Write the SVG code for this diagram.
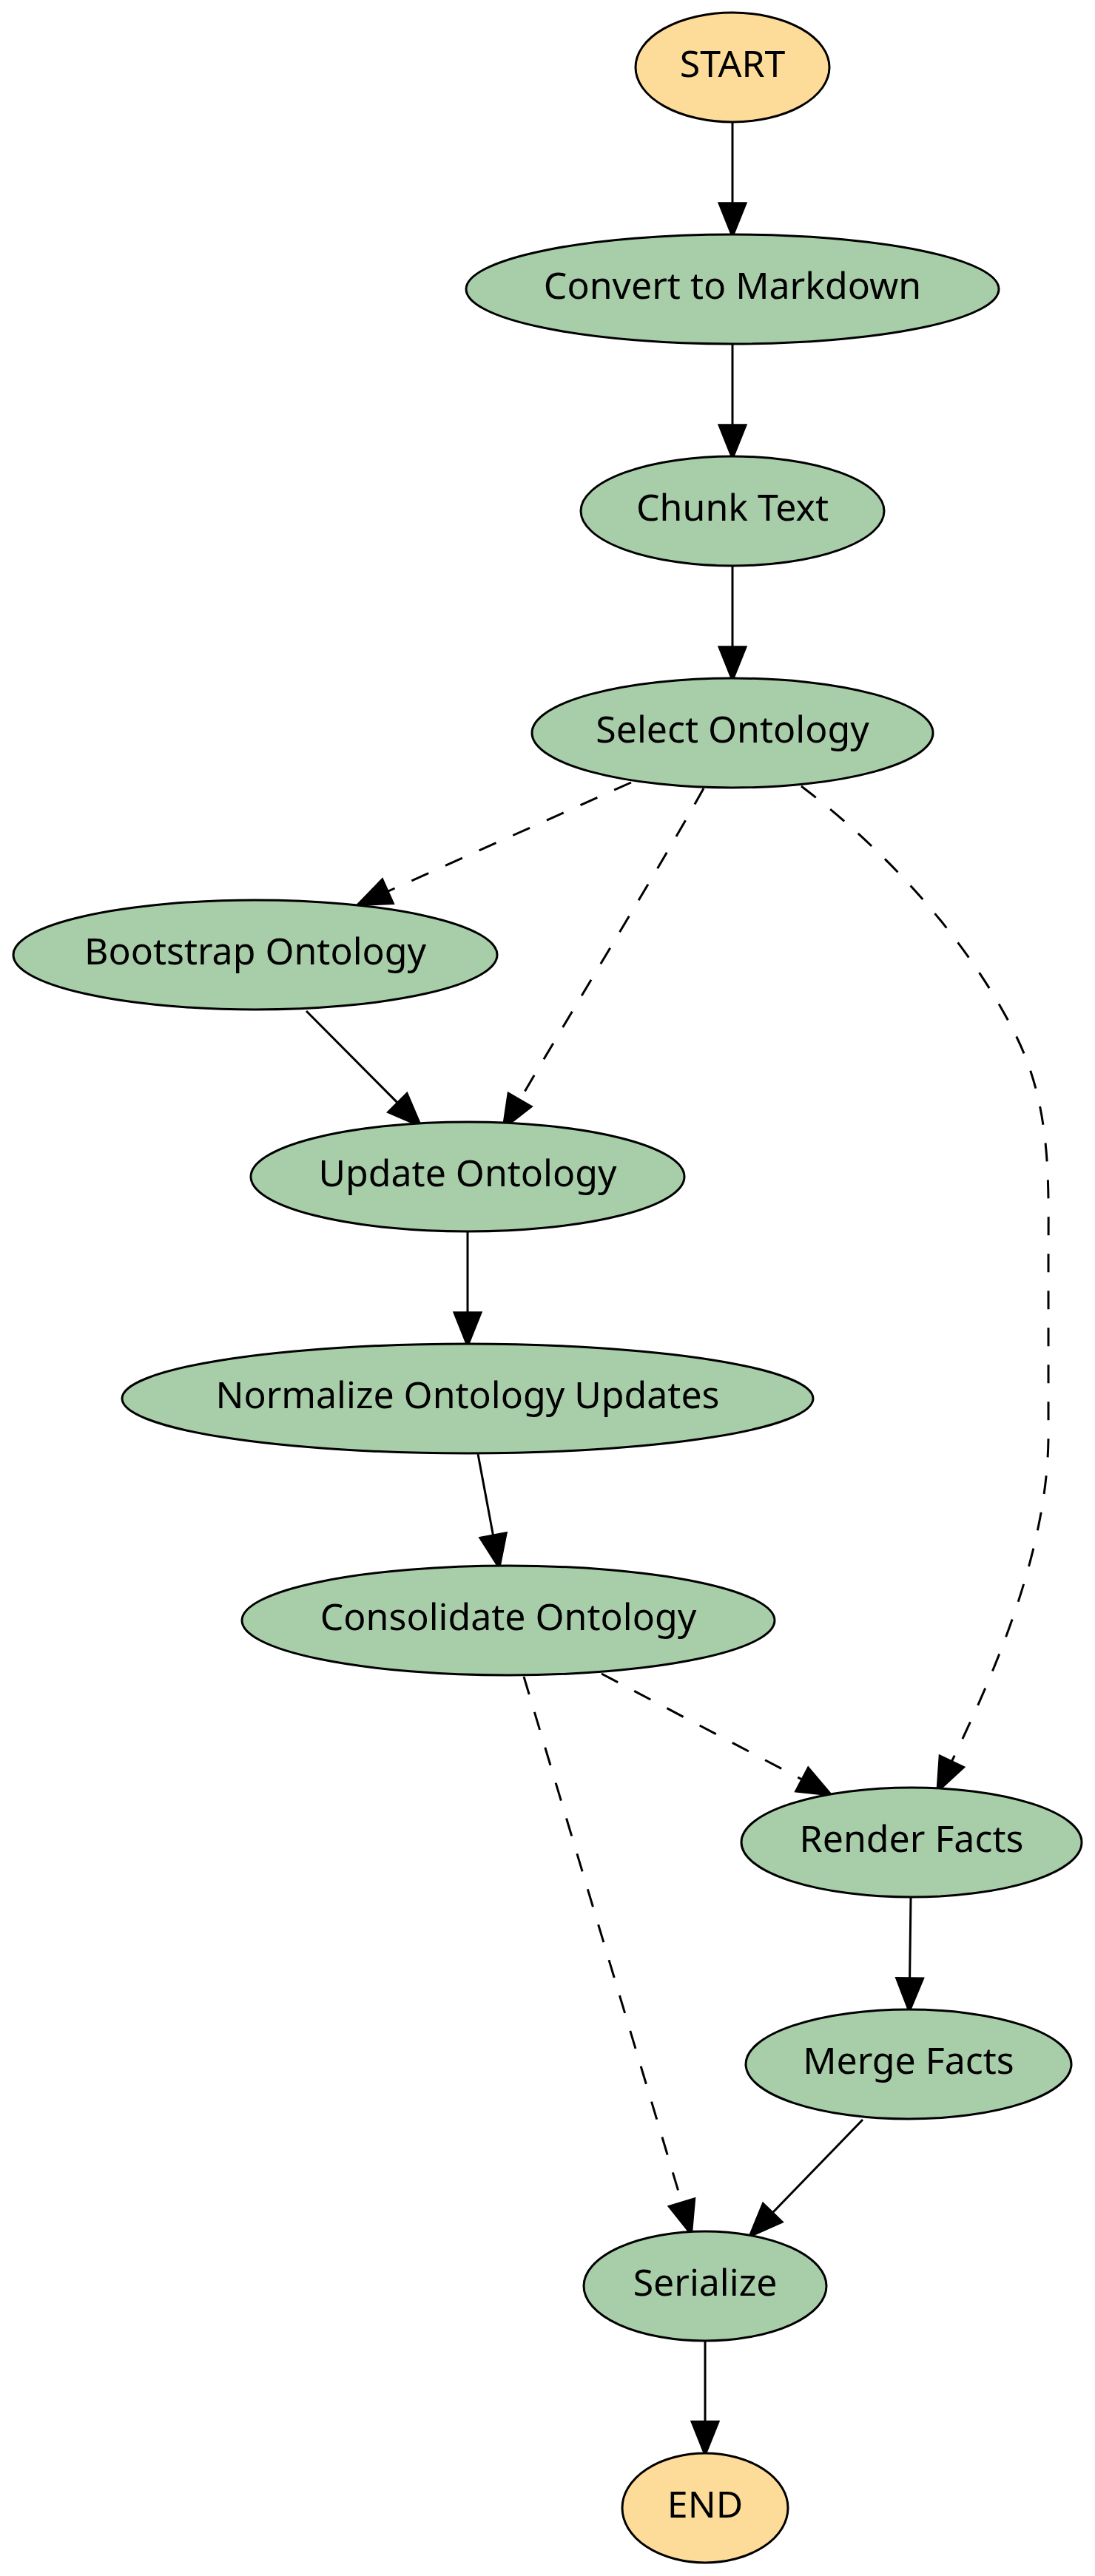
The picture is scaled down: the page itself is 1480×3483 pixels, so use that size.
<svg xmlns="http://www.w3.org/2000/svg" width="1480" height="3483" viewBox="0 0 1480 3483">
<style>
.node ellipse{stroke:#000;stroke-width:3}
.term ellipse{fill:#fddb98}
.step ellipse{fill:#a8cda9}
.node text{font-family:"Noto Sans","Open Sans","DejaVu Sans",sans-serif;font-size:50px;fill:#000;text-anchor:middle}
.edge{fill:none;stroke:#000;stroke-width:3;marker-end:url(#ah)}
.dash{stroke-dasharray:25,25}
</style>
<defs>
<marker id="ah" markerUnits="userSpaceOnUse" orient="auto" refX="0" refY="0" markerWidth="60" markerHeight="60" viewBox="-4 -22 52 44" overflow="visible">
<path d="M0,-16 L40,0 L0,16 Z" fill="#000" stroke="#000" stroke-width="2" stroke-dasharray="none"/>
</marker>
</defs>
<rect width="1480" height="3483" fill="#fff"/>
<g id="connectors">
<path class="edge" d="M990,166 L990,274.5"/>
<path class="edge" d="M990,466 L990,574.5"/>
<path class="edge" d="M990,766 L990,874.5"/>
<path class="edge dash" d="M853,1058 L524.4,1205.1"/>
<path class="edge dash" d="M951,1066 C905,1150 765,1380 702.8,1486.8"/>
<path class="edge dash" d="M1083,1063 C1185,1140 1305,1262 1374,1402 C1422,1500 1417,1600 1417,1700 L1417,1940 C1417,2100 1340,2270 1286.5,2381.4"/>
<path class="edge" d="M414,1367 L537.1,1490.9"/>
<path class="edge" d="M632,1666 L632,1774.5"/>
<path class="edge" d="M646,1966 L666.5,2075.7"/>
<path class="edge dash" d="M813,2263 L1083.7,2405.9"/>
<path class="edge dash" d="M708,2267 L921.4,2977.7"/>
<path class="edge" d="M1231,2566 L1229.6,2674.5"/>
<path class="edge" d="M1166,2866 L1044.5,2991.5"/>
<path class="edge" d="M953,3166 L953,3274"/>
</g>
<g id="start" class="node term"><ellipse cx="990" cy="91" rx="131" ry="74"/><text x="990" y="104">START</text></g>
<g id="convert" class="node step"><ellipse cx="990" cy="391" rx="360" ry="74"/><text x="990" y="404">Convert to Markdown</text></g>
<g id="chunk" class="node step"><ellipse cx="990" cy="691" rx="205" ry="74"/><text x="990" y="704">Chunk Text</text></g>
<g id="select" class="node step"><ellipse cx="990" cy="991" rx="271" ry="74"/><text x="990" y="1004">Select Ontology</text></g>
<g id="bootstrap" class="node step"><ellipse cx="345" cy="1291" rx="327" ry="74"/><text x="345" y="1304">Bootstrap Ontology</text></g>
<g id="update" class="node step"><ellipse cx="632" cy="1591" rx="293" ry="74"/><text x="632" y="1604">Update Ontology</text></g>
<g id="normalize" class="node step"><ellipse cx="632" cy="1891" rx="467" ry="74"/><text x="632" y="1904">Normalize Ontology Updates</text></g>
<g id="consolidate" class="node step"><ellipse cx="687" cy="2191" rx="360" ry="74"/><text x="687" y="2204">Consolidate Ontology</text></g>
<g id="render" class="node step"><ellipse cx="1232" cy="2491" rx="230" ry="74"/><text x="1232" y="2504">Render Facts</text></g>
<g id="merge" class="node step"><ellipse cx="1228" cy="2791" rx="220" ry="74"/><text x="1228" y="2804">Merge Facts</text></g>
<g id="serialize" class="node step"><ellipse cx="953" cy="3091" rx="164" ry="74"/><text x="953" y="3104">Serialize</text></g>
<g id="end" class="node term"><ellipse cx="953" cy="3391" rx="112" ry="74"/><text x="953" y="3404">END</text></g>
</svg>
